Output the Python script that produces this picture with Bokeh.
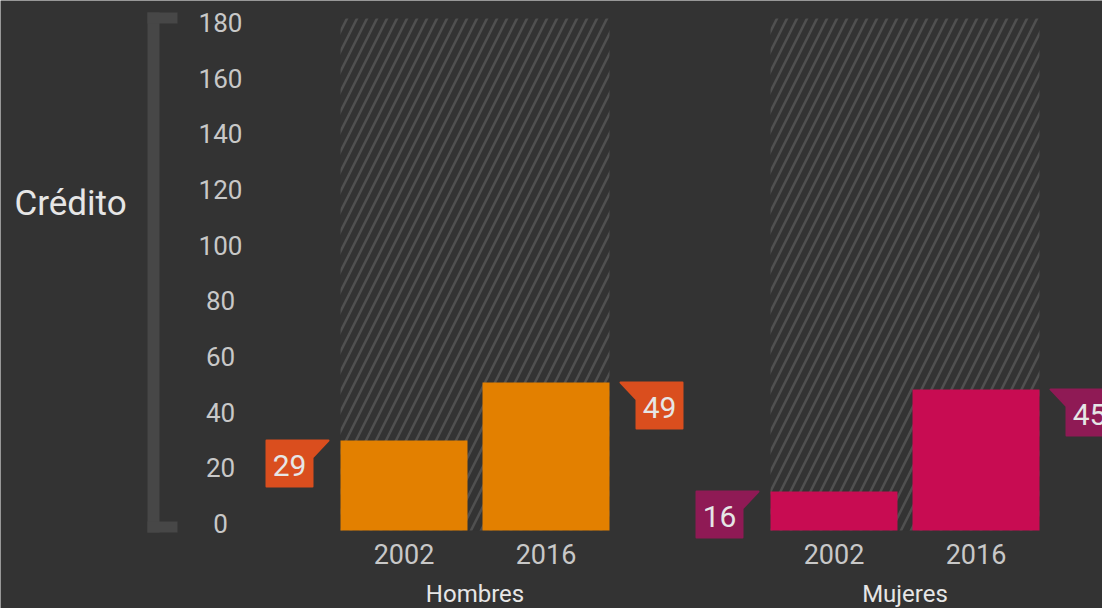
from bokeh.plotting import figure
from bokeh.models import Range1d, ColumnDataSource
from bokeh.core.properties import value
from bokeh.embed import file_html
from bokeh.resources import INLINE

# ---- data ----
groups = ["Hombres", "Mujeres"]
years = ["2002", "2016"]
hombres_values = [31.6, 52.0]
mujeres_values = [13.7, 49.6]
hombres_labels = ["29", "49"]
mujeres_labels = ["16", "45"]
max_value = 180
y_ticks = [0, 20, 40, 60, 80, 100, 120, 140, 160, 180]
axis_title = "Crédito"

# ---- style ----
BG = "#333333"
BAR_COLORS = ["#E38000", "#C80C52"]
CALLOUT_COLORS = ["#DA4E1E", "#8F1A55"]
HATCH_COLOR = "#505050"
TEXT_COLOR = "#C8C8C8"
LABEL_COLOR = "#E6E6E6"
BRACKET_COLOR = "#474747"
FONT = value("Roboto")

W, H = 1102, 608
K = 512 / 180.0          # px per unit
ZERO_SY = 530            # screen y of value 0


def sy2v(sy):
    return (ZERO_SY - sy) / K


def px2v(px):
    return px / K


p = figure(width=W, height=H, output_backend="svg", toolbar_location=None,
           x_range=Range1d(0, W), y_range=Range1d(sy2v(H), sy2v(0)),
           min_border=0, outline_line_color=None,
           background_fill_color=BG, border_fill_color=BG)
p.axis.visible = False
p.grid.visible = False

group_left = [340, 770]
bar_w = 127
gap = 15
callout_w = 46
callout_h = 46
tab_w = 16
tab_h = 17

all_values = [hombres_values, mujeres_values]
all_labels = [hombres_labels, mujeres_labels]

# hatched background bars
p.quad(left=[g for g in group_left], right=[g + 2 * bar_w + gap for g in group_left],
       bottom=0, top=max_value, fill_color=BG, line_color=None,
       hatch_pattern="/", hatch_color=HATCH_COLOR, hatch_scale=20, hatch_weight=2.5)

for gi, g in enumerate(groups):
    gl = group_left[gi]
    vals = all_values[gi]
    labs = all_labels[gi]
    lefts = [gl, gl + bar_w + gap]
    p.quad(left=lefts, right=[l + bar_w for l in lefts], bottom=0, top=vals,
           fill_color=BAR_COLORS[gi], line_color=None)

    # callouts
    xs, ys = [], []
    tx, ty = [], []
    for yi in range(2):
        v = vals[yi]
        top = v
        bot = v - px2v(callout_h)
        tabb = v - px2v(tab_h)
        if yi == 0:
            br = lefts[0] - 28
            bl = br - callout_w
            xs.append([bl, br, br + tab_w, br, br, bl])
            ys.append([top, top, top, tabb, bot, bot])
        else:
            bl = lefts[1] + bar_w + 27
            br = bl + callout_w
            xs.append([bl - tab_w, br, br, bl, bl])
            ys.append([top, top, bot, bot, tabb])
        tx.append((bl + br) / 2)
        ty.append(v - px2v(callout_h / 2))
    p.patches(xs=xs, ys=ys, fill_color=CALLOUT_COLORS[gi], line_color=CALLOUT_COLORS[gi],
              line_join="round", line_width=2)
    p.text(x=tx, y=ty, text=labs, text_font=FONT, text_font_size="30px",
           text_color=LABEL_COLOR, text_align="center", text_baseline="middle", y_offset=2)

    # year labels
    p.text(x=[l + bar_w / 2 for l in lefts], y=[0, 0], text=years, text_font=FONT,
           text_font_size="27px", text_color=TEXT_COLOR, text_align="center",
           text_baseline="middle", y_offset=23)
    # group label
    p.text(x=[gl + bar_w + gap / 2], y=[0], text=[g], text_font=FONT,
           text_font_size="24px", text_color=LABEL_COLOR, text_align="center",
           text_baseline="middle", y_offset=63)

# y tick labels
tick_src = ColumnDataSource(dict(
    x=[220] * len(y_ticks), y=y_ticks, t=[str(t) for t in y_ticks],
    off=[-7 + 11.0 * t / 180 for t in y_ticks]))
p.text(x="x", y="y", text="t", y_offset="off", source=tick_src, text_font=FONT,
       text_font_size="26px", text_color=TEXT_COLOR, text_align="center",
       text_baseline="middle")

# bracket
p.quad(left=[147, 147, 147], right=[159, 177, 177],
       bottom=[sy2v(532), sy2v(23), sy2v(532)], top=[sy2v(12), sy2v(12), sy2v(521)],
       fill_color=BRACKET_COLOR, line_color=None)

# axis title
p.text(x=[70], y=[sy2v(203)], text=[axis_title], text_font=FONT, text_font_size="35px",
       text_color=LABEL_COLOR, text_align="center", text_baseline="middle")

html = file_html(p, INLINE)
html = html.replace("<body>", '<body style="background:#333333">', 1)
open("out.html", "w").write(html)
